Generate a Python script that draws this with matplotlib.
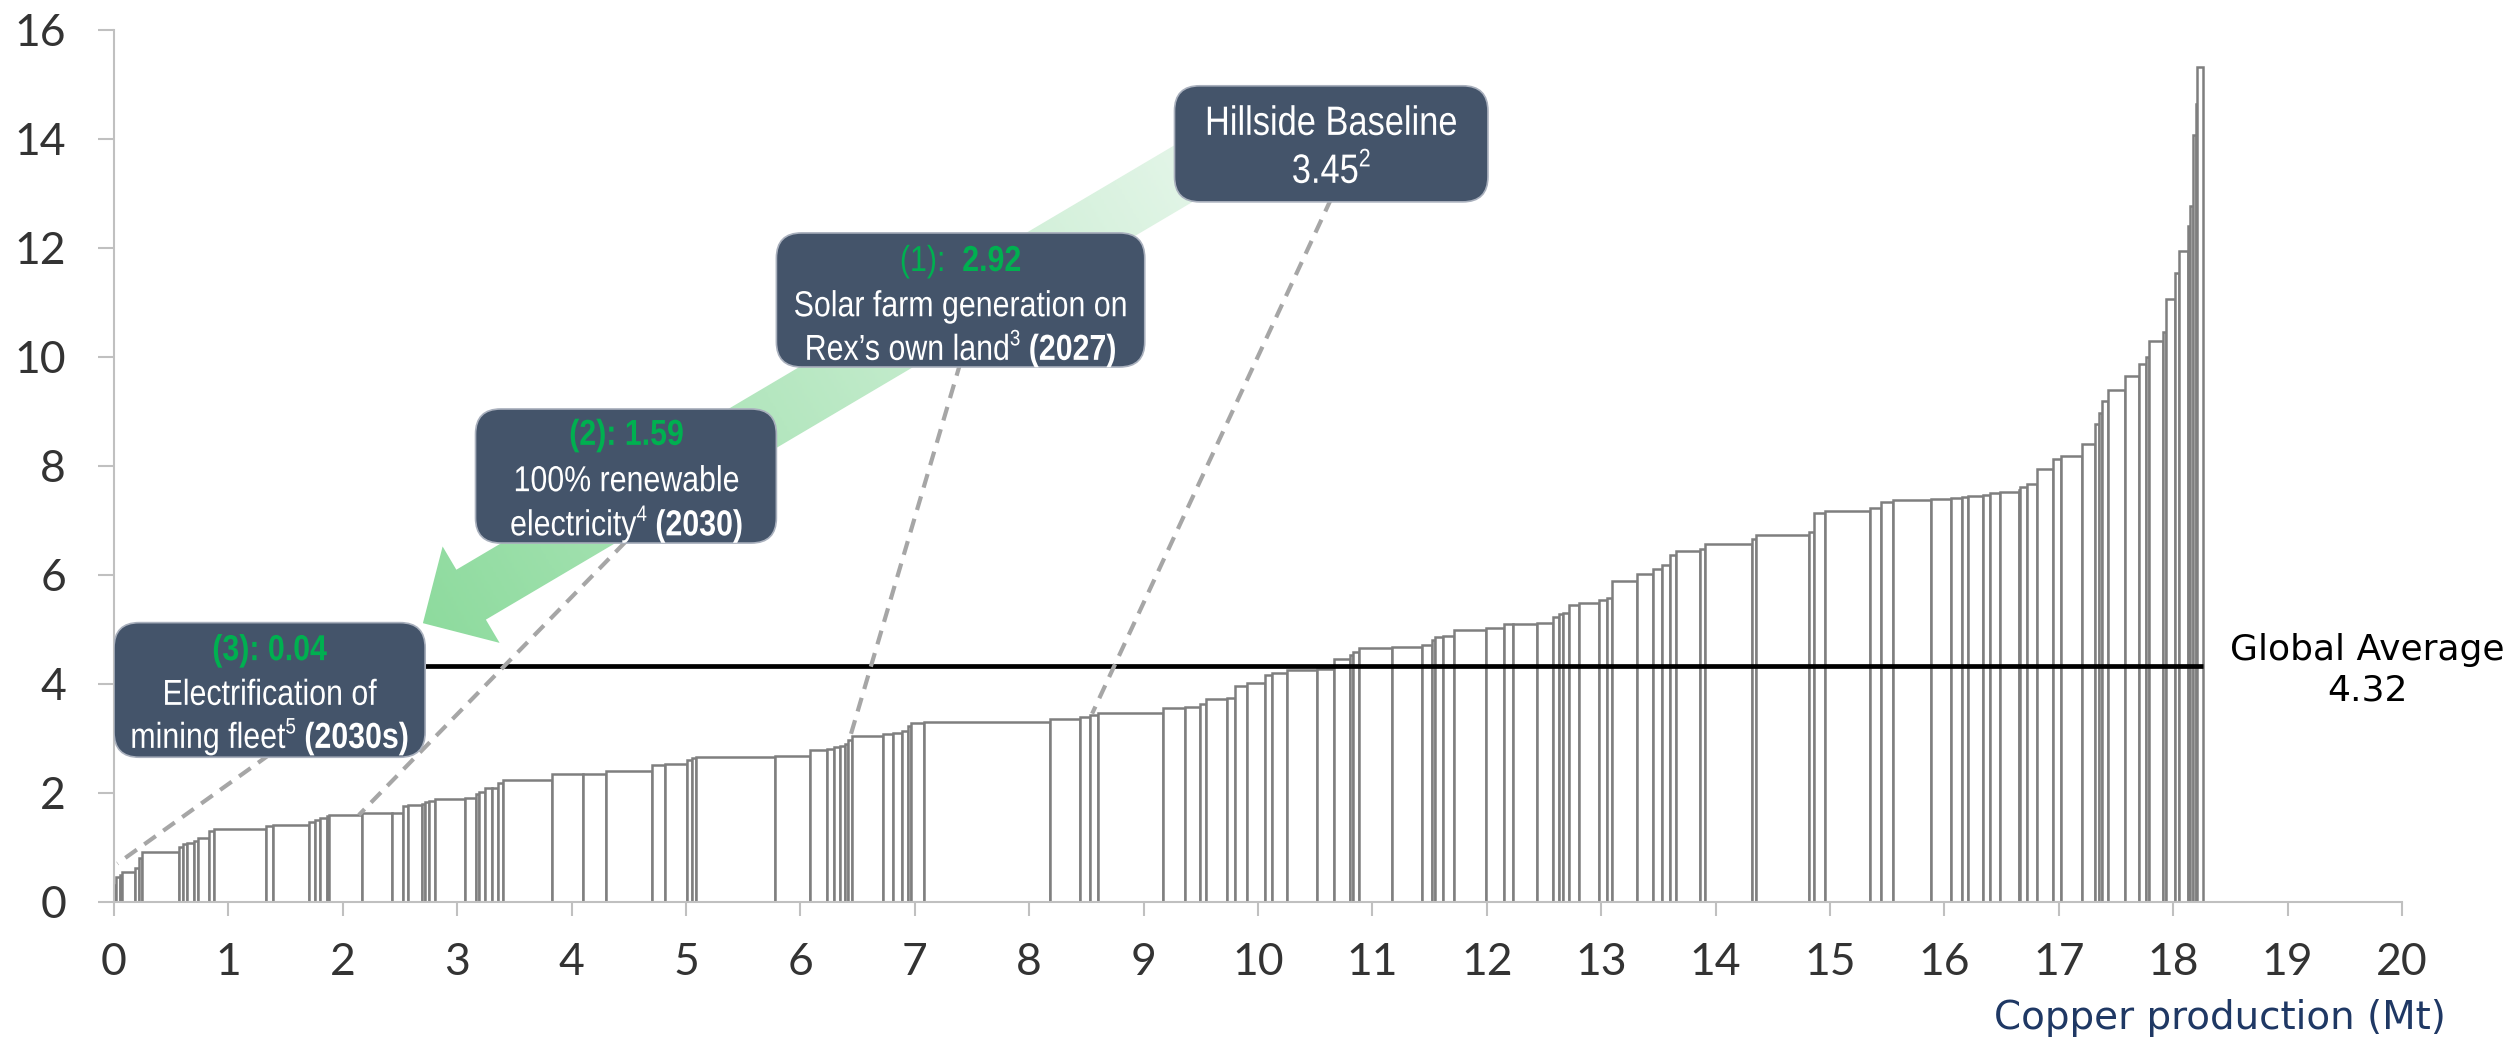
import numpy as np
import matplotlib
matplotlib.use('Agg')
import matplotlib.pyplot as plt
from matplotlib import font_manager
from matplotlib.font_manager import FontProperties
from matplotlib.patches import FancyBboxPatch, Polygon, PathPatch
from matplotlib.textpath import TextPath, TextToPath
from matplotlib.transforms import IdentityTransform, Affine2D
from matplotlib.colors import LinearSegmentedColormap

# copper output per operation (Mt) and its emissions intensity, sorted low to high
widths = [0.02, 0.03, 0.02, 0.11, 0.04, 0.025, 0.325, 0.03, 0.04, 0.06,
          0.03, 0.10, 0.04, 0.46, 0.06, 0.31, 0.06, 0.04, 0.06, 0.02,
          0.285, 0.265, 0.10, 0.04, 0.12, 0.03, 0.03, 0.06, 0.26, 0.09,
          0.03, 0.05, 0.06, 0.06, 0.04, 0.425, 0.275, 0.20, 0.40, 0.12,
          0.19, 0.04, 0.04, 0.69, 0.30, 0.15, 0.06, 0.06, 0.04, 0.03,
          0.03, 0.275, 0.085, 0.075, 0.055, 0.03, 0.11, 1.10, 0.26, 0.09,
          0.07, 0.57, 0.19, 0.13, 0.055, 0.185, 0.07, 0.10, 0.16, 0.06,
          0.13, 0.27, 0.14, 0.14, 0.03, 0.05, 0.29, 0.26, 0.09, 0.03,
          0.07, 0.09, 0.28, 0.16, 0.08, 0.21, 0.14, 0.05, 0.04, 0.05,
          0.09, 0.17, 0.07, 0.04, 0.22, 0.14, 0.08, 0.07, 0.05, 0.21,
          0.05, 0.41, 0.03, 0.47, 0.04, 0.10, 0.39, 0.10, 0.10, 0.33,
          0.18, 0.09, 0.06, 0.13, 0.06, 0.09, 0.16, 0.01, 0.06, 0.09,
          0.14, 0.07, 0.18, 0.12, 0.03, 0.03, 0.05, 0.15, 0.12, 0.06,
          0.03, 0.12, 0.03, 0.08, 0.03, 0.08, 0.02, 0.02, 0.03, 0.01,
          0.05]
intensity = [0.30, 0.45, 0.49, 0.55, 0.62, 0.80, 0.92, 1.00, 1.05, 1.08,
             1.12, 1.16, 1.30, 1.33, 1.39, 1.41, 1.46, 1.50, 1.54, 1.57,
             1.59, 1.62, 1.63, 1.75, 1.77, 1.80, 1.82, 1.85, 1.88, 1.90,
             1.97, 2.02, 2.08, 2.09, 2.17, 2.23, 2.34, 2.35, 2.40, 2.51,
             2.53, 2.60, 2.63, 2.65, 2.67, 2.78, 2.80, 2.83, 2.85, 2.90,
             2.97, 3.04, 3.08, 3.09, 3.13, 3.22, 3.27, 3.30, 3.35, 3.38,
             3.42, 3.47, 3.55, 3.57, 3.62, 3.72, 3.74, 3.96, 4.02, 4.15,
             4.20, 4.25, 4.27, 4.45, 4.53, 4.59, 4.65, 4.68, 4.71, 4.81,
             4.85, 4.87, 4.98, 5.02, 5.09, 5.10, 5.12, 5.23, 5.27, 5.30,
             5.44, 5.48, 5.54, 5.57, 5.88, 6.01, 6.10, 6.18, 6.36, 6.44,
             6.48, 6.56, 6.65, 6.73, 6.78, 7.14, 7.175, 7.22, 7.33, 7.37,
             7.38, 7.40, 7.42, 7.44, 7.47, 7.49, 7.51, 7.55, 7.61, 7.67,
             7.93, 8.12, 8.18, 8.40, 8.77, 8.96, 9.18, 9.39, 9.65, 9.86,
             10.00, 10.29, 10.45, 11.06, 11.53, 11.94, 12.39, 12.76, 14.06, 14.63,
             15.32]

global_avg = 4.32
hillside_baseline = 3.45
lever_values = [2.92, 1.59, 0.04]
lever_years = ['2027', '2030', '2030s']
lever_x = [6.42, 2.14, 0.03]      # where each lever's leader meets the curve
baseline_x = 8.55

BOX_FILL = '#44546A'
GREEN = '#00B050'

names = {f.name for f in font_manager.fontManager.ttflist}
if 'Liberation Sans Narrow' in names:
    box_font, hscale = 'Liberation Sans Narrow', 1.0
else:
    # no narrow cut installed: squeeze the regular face instead
    box_font, hscale = 'Liberation Sans', 0.84

fig = plt.figure(figsize=(25.06, 10.40), dpi=100)
ax = fig.add_axes([0.0455, 0.133, 0.913, 0.8385])
ax.set_xlim(0, 20)
ax.set_ylim(0, 16)

lefts = np.concatenate([[0], np.cumsum(widths)[:-1]])
total = float(np.sum(widths))
ax.bar(lefts, intensity, width=widths, align='edge', color='white',
       edgecolor='#7f7f7f', linewidth=1.8, zorder=2)

ax.hlines(global_avg, 0, total, color='black', lw=3.4, zorder=3)

ax.set_xticks(range(0, 21))
ax.set_yticks(range(0, 17, 2))
for s in ['top', 'right']:
    ax.spines[s].set_visible(False)
for s in ['left', 'bottom']:
    ax.spines[s].set_color('#c0c0c0')
    ax.spines[s].set_linewidth(1.5)
ax.tick_params(axis='both', color='#c0c0c0', width=1.5, labelcolor='#333333',
               labelsize=32, direction='out')
ax.tick_params(axis='x', length=10, pad=19)
ax.tick_params(axis='y', length=11.5, pad=23)
for lab in ax.get_xticklabels() + ax.get_yticklabels():
    lab.set_fontfamily('Lato')

ax.text(20.38, -2.13, 'Copper production (Mt)', ha='right', va='center',
        fontsize=28, color='#1F3864', family='DejaVu Sans', clip_on=False)
ax.text(19.70, 4.25, 'Global Average\n' + f'{global_avg:.2f}', ha='center',
        va='center', fontsize=26, color='black', family='DejaVu Sans',
        linespacing=1.25, clip_on=False)

# dashed leaders from each callout down to the curve
leaders = [((10.64, 12.9), (baseline_x, hillside_baseline)),
           ((7.40, 9.9), (lever_x[0], lever_values[0])),
           ((4.47, 6.6), (lever_x[1], lever_values[1])),
           ((1.36, 2.7), (lever_x[2], 0.70))]
for (x0, y0), (x1, y1) in leaders:
    ax.plot([x0, x1], [y0, y1], color='#a6a6a6', lw=3.0, dashes=(3.4, 2.2),
            zorder=4, solid_capstyle='butt')


def gradient_arrow(tail, tip, shaft_w, head_w, head_l, c0, c1):
    p0 = ax.transData.transform(tail)
    p1 = ax.transData.transform(tip)
    d = p1 - p0
    L = np.hypot(*d)
    u = d / L
    n = np.array([-u[1], u[0]])
    base = p1 - u * head_l
    pts = np.array([p0 + n * shaft_w / 2, base + n * shaft_w / 2,
                    base + n * head_w / 2, p1, base - n * head_w / 2,
                    base - n * shaft_w / 2, p0 - n * shaft_w / 2])
    poly = Polygon(pts, closed=True, transform=IdentityTransform())
    xmin, ymin = pts.min(axis=0)
    xmax, ymax = pts.max(axis=0)
    gx, gy = np.meshgrid(np.linspace(xmin, xmax, 300), np.linspace(ymin, ymax, 300))
    t = np.clip(((gx - p0[0]) * u[0] + (gy - p0[1]) * u[1]) / L, 0, 1)
    inv = ax.transData.inverted()
    (dx0, dy0), (dx1, dy1) = inv.transform([(xmin, ymin), (xmax, ymax)])
    cmap = LinearSegmentedColormap.from_list('g', [c0, c1])
    im = ax.imshow(t, extent=[dx0, dx1, dy0, dy1], origin='lower', cmap=cmap,
                   aspect='auto', zorder=5, interpolation='bilinear')
    im.set_clip_path(poly)


gradient_arrow((9.93, 14.08), (2.70, 5.11), 58, 112, 56, '#e9f7ed', '#8edb9e')
ax.set_xlim(0, 20)
ax.set_ylim(0, 16)

# rounded callout boxes, corrected for unequal data scaling
(px0, py0), (px1, py1) = ax.transData.transform([(0, 0), (1, 1)])
aspect = (px1 - px0) / (py1 - py0)


def callout(x0, y0, x1, y1):
    box = FancyBboxPatch((x0, y0), x1 - x0, y1 - y0,
                         boxstyle='round,pad=0,rounding_size=0.22',
                         mutation_aspect=aspect, facecolor=BOX_FILL,
                         edgecolor='#a9b0bd', linewidth=1.2, zorder=6)
    ax.add_patch(box)


ttp = TextToPath()


def rich_line(x, y, parts, size):
    cx, cy = ax.transData.transform((x, y))
    px = size * fig.dpi / 72
    items = []
    width = 0
    for s, weight, color, sup in parts:
        fs = px * 0.62 if sup else px
        prop = FontProperties(family=box_font, weight=weight, size=fs)
        path = TextPath((0, 0), s, size=fs, prop=prop)
        w = ttp.get_text_width_height_descent(s, prop, ismath=False)[0] * hscale
        items.append((path, w, color, sup))
        width += w
    xpos = cx - width / 2
    base = cy - 0.36 * px
    for path, w, color, sup in items:
        tr = Affine2D().scale(hscale, 1).translate(xpos, base + (0.40 * px if sup else 0))
        patch = PathPatch(path, transform=tr, facecolor=color, edgecolor='none',
                          zorder=8, clip_on=False)
        ax.add_artist(patch)
        xpos += w


W = 'white'
callout(9.27, 12.84, 12.01, 14.97)
rich_line(10.64, 14.34, [('Hillside Baseline', 'normal', W, False)], 29.5)
rich_line(10.64, 13.46, [(f'{hillside_baseline:.2f}', 'normal', W, False),
                         ('2', 'normal', W, True)], 29.5)

callout(5.79, 9.81, 9.01, 12.27)
rich_line(7.40, 11.81, [('(1):  ', 'normal', GREEN, False),
                        (f'{lever_values[0]:.2f}', 'bold', GREEN, False)], 26)
rich_line(7.40, 10.98, [('Solar farm generation on', 'normal', W, False)], 26)
rich_line(7.40, 10.18, [('Rex\u2019s own land', 'normal', W, False),
                        ('3', 'normal', W, True),
                        (f' ({lever_years[0]})', 'bold', W, False)], 26)

callout(3.16, 6.58, 5.79, 9.04)
rich_line(4.48, 8.62, [(f'(2): {lever_values[1]:.2f}', 'bold', GREEN, False)], 26)
rich_line(4.48, 7.77, [('100% renewable', 'normal', W, False)], 26)
rich_line(4.48, 6.96, [('electricity', 'normal', W, False),
                       ('4', 'normal', W, True),
                       (f' ({lever_years[1]})', 'bold', W, False)], 26)

callout(0.0, 2.65, 2.72, 5.12)
rich_line(1.36, 4.67, [(f'(3): {lever_values[2]:.2f}', 'bold', GREEN, False)], 26)
rich_line(1.36, 3.85, [('Electrification of', 'normal', W, False)], 26)
rich_line(1.36, 3.06, [('mining fleet', 'normal', W, False),
                       ('5', 'normal', W, True),
                       (f' ({lever_years[2]})', 'bold', W, False)], 26)

ax.set_xlim(0, 20)
ax.set_ylim(0, 16)
fig.savefig('out.png', dpi=100)
